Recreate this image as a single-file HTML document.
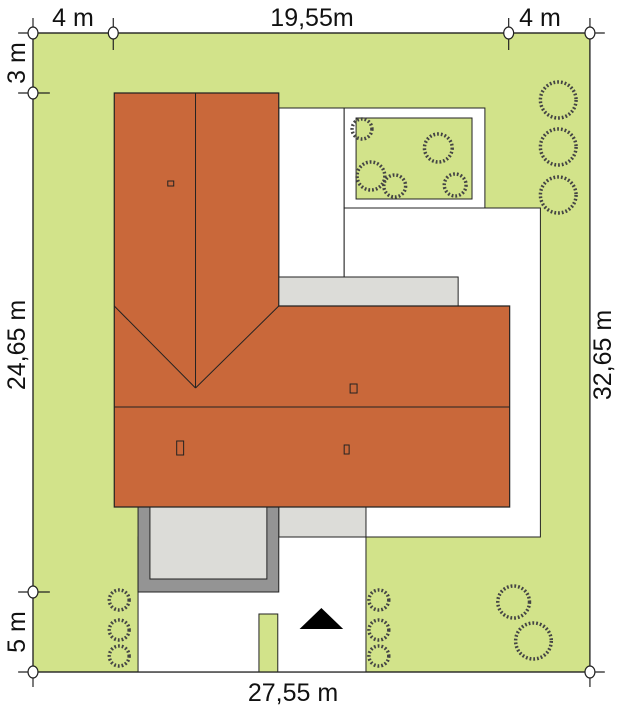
<!DOCTYPE html>
<html><head><style>body{margin:0;background:#fff}svg{display:block}text{font-family:"Liberation Sans",sans-serif;font-size:25px;fill:#111}</style></head><body>
<svg width="621" height="712" viewBox="0 0 621 712">
<g transform="translate(33,0) scale(0.991,1) translate(-33,0)">
<rect x="33" y="33" width="562" height="639" fill="#d2e38a" stroke="#222" stroke-width="1.2"/>
<rect x="281" y="108" width="66" height="170" fill="#fff" stroke="#222"/>
<rect x="347" y="108" width="142" height="100" fill="#fff" stroke="#222"/>
<rect x="359" y="118" width="117" height="81" fill="#d2e38a" stroke="#222"/>
<rect x="347" y="208" width="198" height="329" fill="#fff" stroke="#222"/>
<rect x="139" y="537" width="230" height="135" fill="#fff" stroke="#222"/>
<rect x="278" y="277" width="184" height="30" fill="#dcdcd8" stroke="#222"/>
<rect x="281" y="507" width="88" height="30" fill="#dcdcd8" stroke="#222"/>
<rect x="139" y="507" width="142" height="85" fill="#949494" stroke="#222"/>
<rect x="151" y="507" width="118" height="72" fill="#dcdcd8" stroke="#222"/>
<rect x="261" y="614" width="19" height="58" fill="#d2e38a" stroke="#222"/>
<polygon points="302,629 324,608 346,629" fill="#000"/>
<polygon points="115,93 281,93 281,306 514,306 514,507 115,507" fill="#c9683a" stroke="#222" stroke-width="1.2"/>
<line x1="197" y1="93" x2="197" y2="388" stroke="#222"/>
<line x1="115" y1="306" x2="197" y2="388" stroke="#222"/>
<line x1="281" y1="306" x2="197" y2="388" stroke="#222"/>
<line x1="115" y1="407" x2="514" y2="407" stroke="#222"/>
<rect x="169" y="181" width="6" height="5" fill="none" stroke="#222"/>
<rect x="353" y="384" width="7" height="9" fill="none" stroke="#222"/>
<rect x="178" y="441" width="7" height="14" fill="none" stroke="#222"/>
<rect x="347" y="445" width="5" height="9" fill="none" stroke="#222"/>
<g fill="none" stroke="#444" stroke-width="3.5" stroke-dasharray="1.8 2">
<circle cx="563" cy="100" r="18"/><circle cx="563" cy="147" r="18"/><circle cx="563" cy="195" r="18"/>
<circle cx="365" cy="129" r="10"/><circle cx="442" cy="148" r="14"/><circle cx="374" cy="176" r="14"/><circle cx="398" cy="186" r="11"/><circle cx="459" cy="185" r="11"/>
<circle cx="120" cy="600" r="10"/><circle cx="120" cy="630" r="10"/><circle cx="120" cy="656" r="10"/>
<circle cx="382" cy="600" r="10"/><circle cx="382" cy="630" r="10"/><circle cx="382" cy="656" r="10"/>
<circle cx="518" cy="602" r="16"/><circle cx="538" cy="641" r="18"/>
</g>
<g stroke="#222" stroke-width="1.2" fill="none">
<line x1="18" y1="33" x2="610" y2="33"/><line x1="33" y1="18" x2="33" y2="687"/>
<line x1="18" y1="672" x2="610" y2="672"/><line x1="595" y1="18" x2="595" y2="687"/>
<line x1="114" y1="18" x2="114" y2="50"/><line x1="513" y1="18" x2="513" y2="50"/>
<line x1="18" y1="93" x2="50" y2="93"/><line x1="18" y1="592" x2="50" y2="592"/>
<ellipse cx="33" cy="33" rx="5" ry="6" fill="#fff"/><ellipse cx="114" cy="33" rx="5" ry="6" fill="#fff"/><ellipse cx="513" cy="33" rx="5" ry="6" fill="#fff"/><ellipse cx="595" cy="33" rx="5" ry="6" fill="#fff"/>
<ellipse cx="33" cy="93" rx="5" ry="6" fill="#fff"/><ellipse cx="33" cy="592" rx="5" ry="6" fill="#fff"/><ellipse cx="33" cy="672" rx="5" ry="6" fill="#fff"/><ellipse cx="595" cy="672" rx="5" ry="6" fill="#fff"/>
</g>
</g>
<text x="73" y="26" text-anchor="middle">4 m</text>
<text x="312" y="26" text-anchor="middle">19,55m</text>
<text x="540" y="26" text-anchor="middle">4 m</text>
<text x="293" y="701" text-anchor="middle">27,55 m</text>
<text transform="translate(25,63) rotate(-90)" text-anchor="middle">3 m</text>
<text transform="translate(25,345) rotate(-90)" text-anchor="middle">24,65 m</text>
<text transform="translate(25,632) rotate(-90)" text-anchor="middle">5 m</text>
<text transform="translate(611,355) rotate(-90)" text-anchor="middle">32,65 m</text>
</svg>
</body></html>
